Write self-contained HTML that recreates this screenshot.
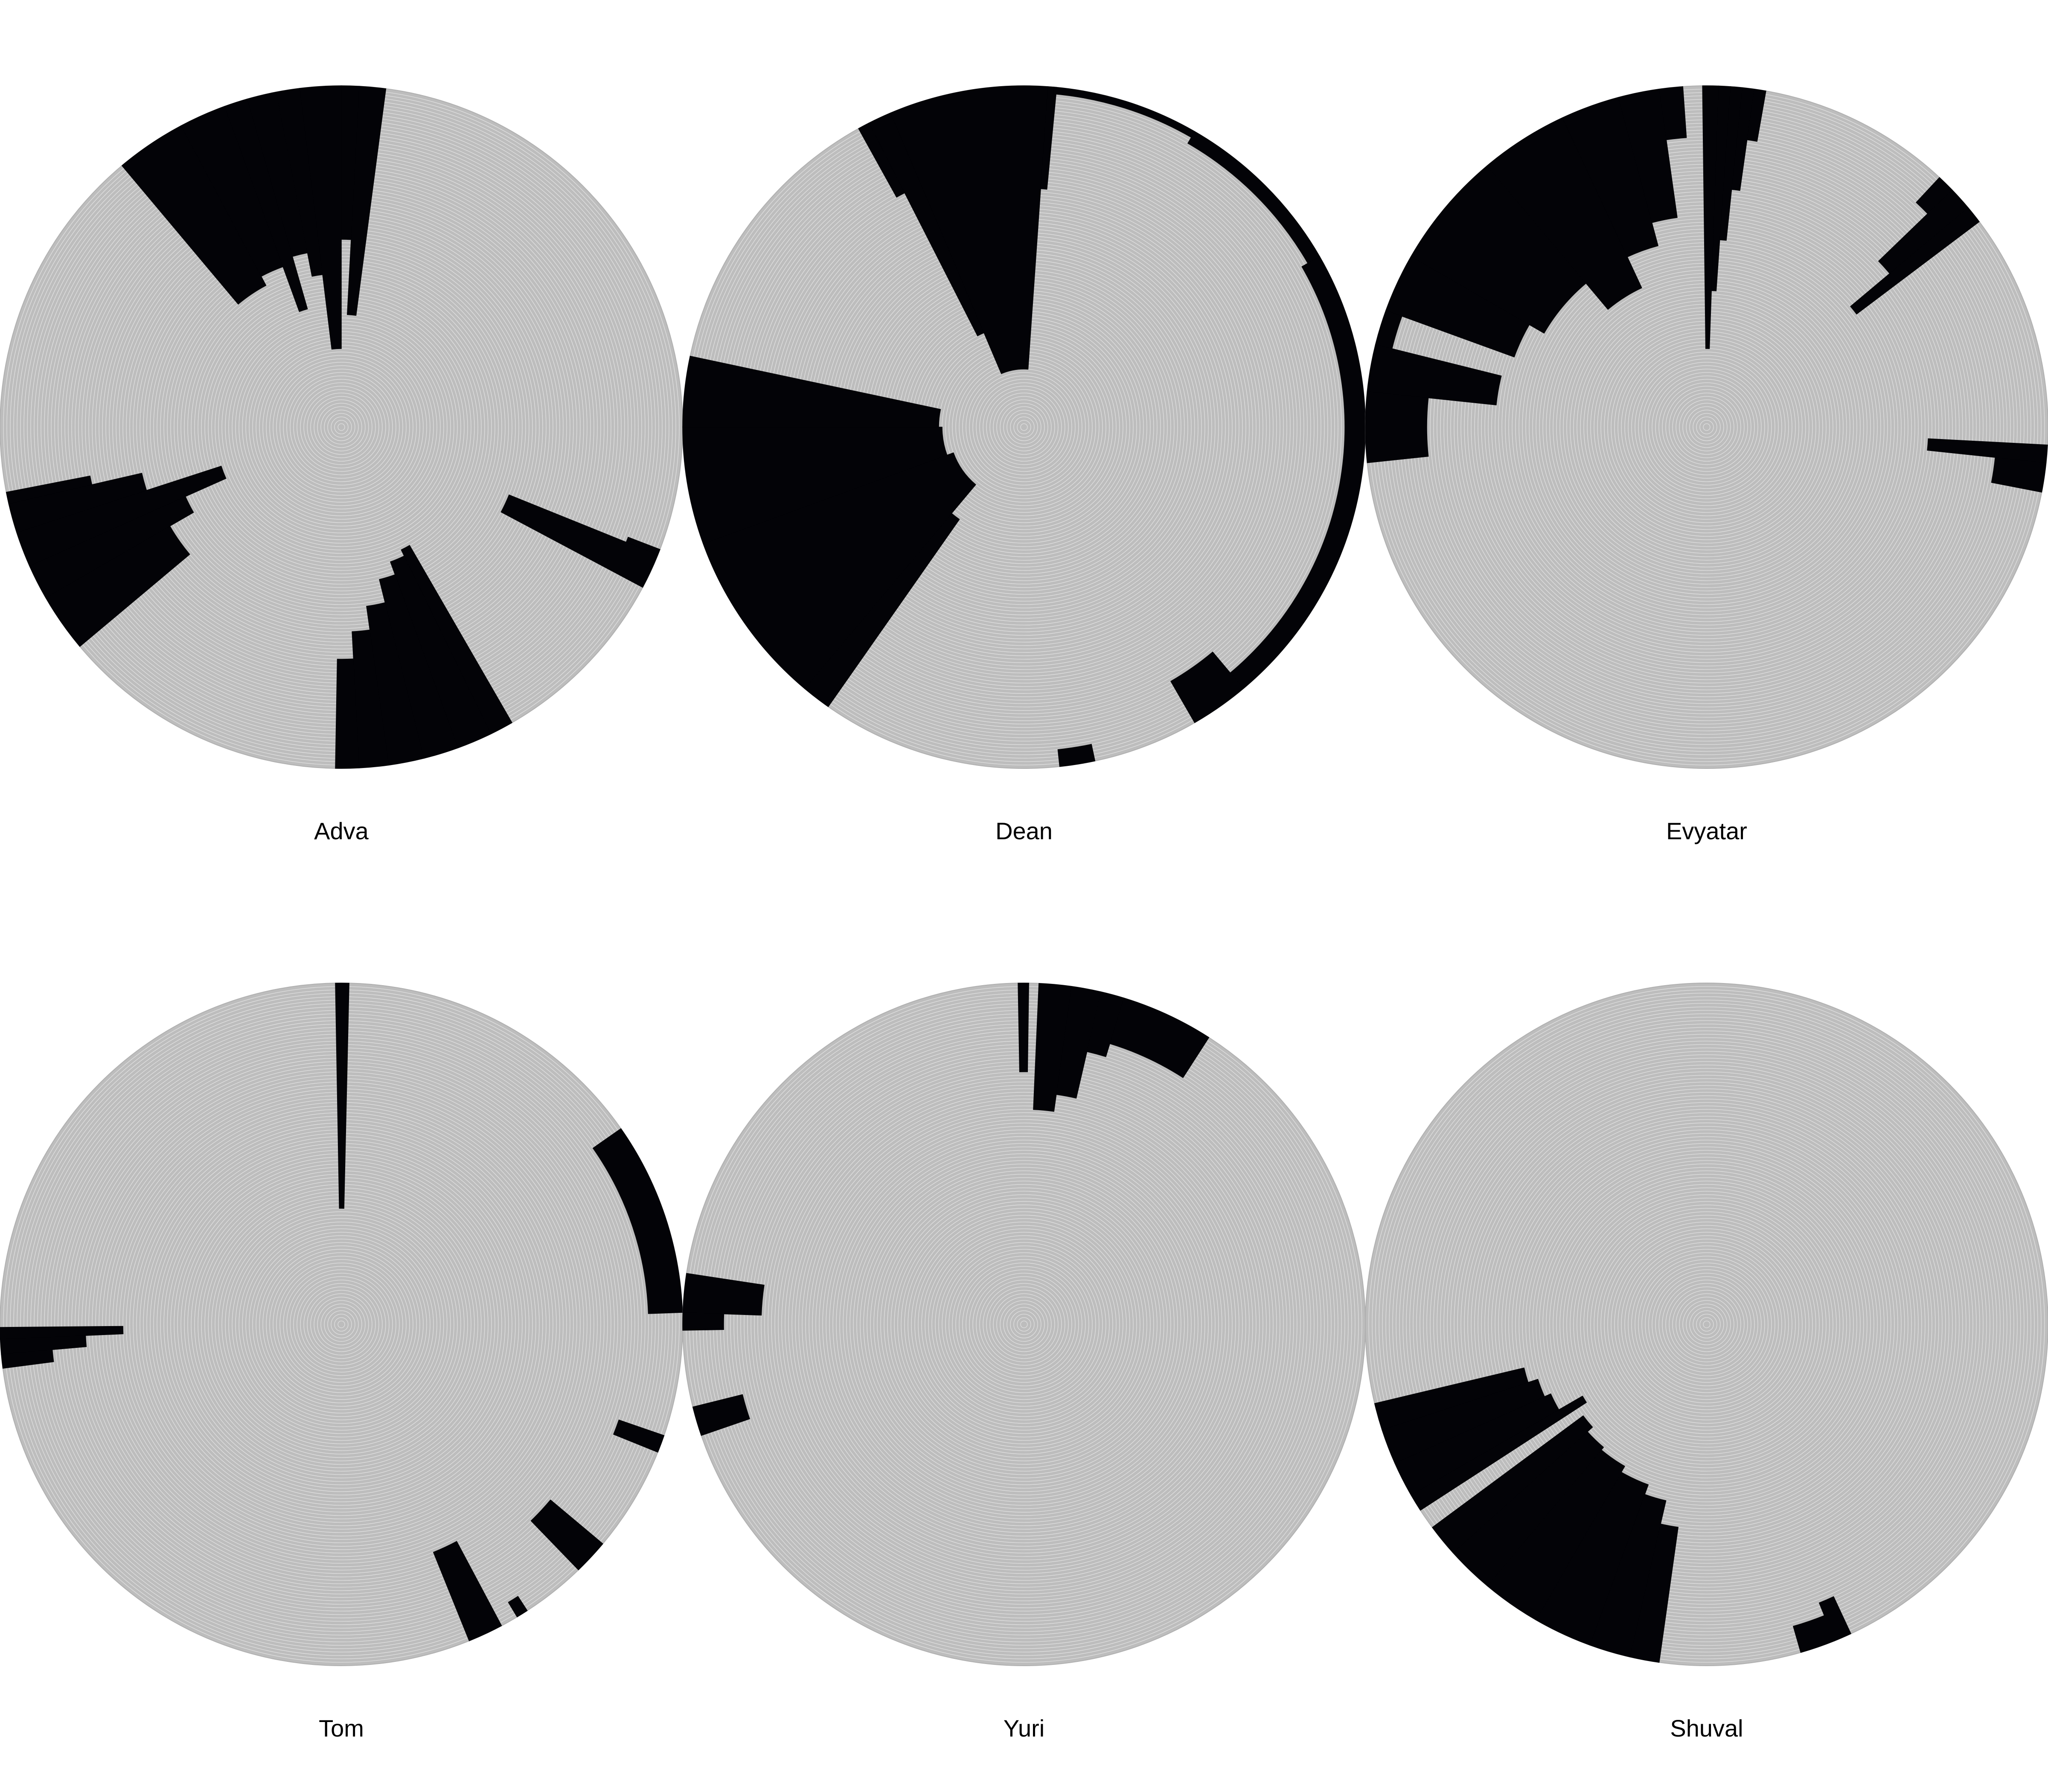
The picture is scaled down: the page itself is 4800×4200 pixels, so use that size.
<!DOCTYPE html>
<html><head><meta charset="utf-8"><style>
html,body{margin:0;padding:0;background:#fff;}
svg{display:block;}
text{font-family:"Liberation Sans",sans-serif;font-size:56px;fill:#000;}
</style></head><body>
<svg id="chart" width="4800" height="4200" viewBox="0 0 4800 4200"></svg>
<script>
const names = ["Adva","Dean","Evyatar","Tom","Yuri","Shuval"];
const centersX = [800,2400,4000,800,2400,4000];
const centersY = [1001,1001,1001,3104,3104,3104];
const R = 800;
// wedge data: start angle (deg, clockwise from top), end angle, inner radius fraction
const advaStart = [320,332,340,344,349,353,0,3, 230,240,246,252,257, 111,112, 150,154,160,166,172,177];
const advaEnd   = [332,340,344,349,353,360,3,7.5, 240,246,252,257,259, 112,118, 154,160,166,172,177,181];
const advaInner = [.47,.50,.36,.52,.45,.23,.55,.33, .58,.50,.37,.60,.75, .9,.53, .40,.42,.46,.53,.60,.68];
const deanStart = [331,333,337,4, 5,30,60,140, 168, 215,220,250,270];
const deanEnd   = [333,337,364,5.5, 30,60,140,150, 174, 220,250,270,282];
const deanInner = [.77,.30,.17,.70, .98,.96,.94,.86, .95, .33,.22,.24,.25];
const evyStart = [264,276,284,290,300,320,335,345,352, 359.3,362,364,366,368, 43,46,50, 93,96];
const evyEnd   = [276,284,290,300,320,335,345,352,356, 362,364,366,368,370, 46,50,53, 96,101];
const evyInner = [.82,.62,.95,.60,.55,.45,.55,.62,.85, .23,.40,.55,.70,.85, .9,.7,.55, .65,.85];
const tomStart = [359,55,262.6,265,267.5,109,130,152,147];
const tomEnd   = [361.3,88,265,267.5,269.5,112,136,158,149];
const tomInner = [.34,.90,.85,.75,.64,.86,.80,.72,.95];
const yuriStart = [359,2.5,8,13,17, 269,272, 251];
const yuriEnd   = [360.8,8,13,17,32.8, 272,278.6, 256];
const yuriInner = [.74,.63,.68,.82,.86, .88,.77, .85];
const shuStart = [237,240,246,252, 188,193,200,210,220,228, 155,158];
const shuEnd   = [240,246,252,256.6, 193,200,210,220,228,233.5, 158,164];
const shuInner = [.42,.50,.52,.55, .60,.53,.50,.48,.47,.45, .88,.92];
const allStart = [advaStart,deanStart,evyStart,tomStart,yuriStart,shuStart];
const allEnd = [advaEnd,deanEnd,evyEnd,tomEnd,yuriEnd,shuEnd];
const allInner = [advaInner,deanInner,evyInner,tomInner,yuriInner,shuInner];

const NS = "http://www.w3.org/2000/svg";
const svg = document.getElementById('chart');
function pt(cx,cy,r,a){const t=a*Math.PI/180;return [cx+r*Math.sin(t),cy-r*Math.cos(t)];}
function wedgePath(cx,cy,a0,a1,r0,r1){
  if(a1<a0)a1+=360;
  const large=(a1-a0)>180?1:0;
  const p1=pt(cx,cy,r1,a0),p2=pt(cx,cy,r1,a1),p3=pt(cx,cy,r0,a1),p4=pt(cx,cy,r0,a0);
  return `M${p1[0]},${p1[1]} A${r1},${r1} 0 ${large} 1 ${p2[0]},${p2[1]} L${p3[0]},${p3[1]} A${r0},${r0} 0 ${large} 0 ${p4[0]},${p4[1]} Z`;
}
names.forEach((nm,i)=>{
  const cx=centersX[i],cy=centersY[i];
  const g=document.createElementNS(NS,'g');
  
  
  svg.appendChild(g);
  const disc=document.createElementNS(NS,'circle');
  
  
  disc.setAttribute('cx',cx);disc.setAttribute('cy',cy);disc.setAttribute('r',R);
  disc.setAttribute('fill','#bdbdbd');disc.setAttribute('stroke','#b0b0b0');disc.setAttribute('stroke-width','2');
  g.appendChild(disc);
  let d='';
  for(let r=8;r<R;r+=8){d+=`M${cx-r},${cy} a${r},${r} 0 1 0 ${2*r},0 a${r},${r} 0 1 0 ${-2*r},0 `;}
  const rings=document.createElementNS(NS,'path');
  
  
  rings.setAttribute('d',d);rings.setAttribute('fill','none');rings.setAttribute('stroke','#ffffff');
  rings.setAttribute('stroke-width','1.3');rings.setAttribute('stroke-opacity','0.55');
  g.appendChild(rings);
  const s=allStart[i],e=allEnd[i],inn=allInner[i];
  for(let k=0;k<s.length;k++){
    const p=document.createElementNS(NS,'path');
    
    
    p.setAttribute('d',wedgePath(cx,cy,s[k],e[k],inn[k]*R,R));
    p.setAttribute('fill','#030307');
    p.setAttribute('stroke','#030307');p.setAttribute('stroke-width','1.5');
    g.appendChild(p);
  }
  const t=document.createElementNS(NS,'text');
  
  
  t.setAttribute('x',cx);t.setAttribute('y',cy+966);t.setAttribute('text-anchor','middle');
  t.textContent=nm;
  g.appendChild(t);
});
</script>
</body></html>
